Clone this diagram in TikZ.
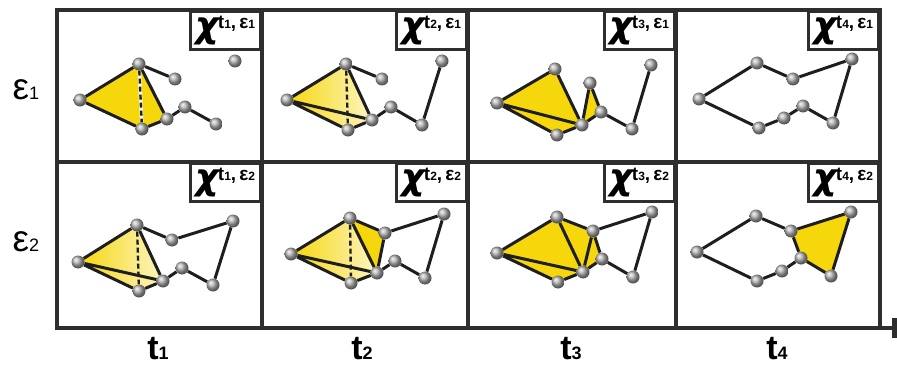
\documentclass[tikz,border=0pt]{standalone}
\usepackage{fontspec}
\setmainfont{Liberation Sans}
\newfontfamily\chifont{DejaVu Sans}
\usetikzlibrary{arrows.meta,backgrounds}
\definecolor{gold}{HTML}{F6D70C}
\definecolor{ink}{HTML}{1E1E1E}
\definecolor{rule}{HTML}{2E2E2E}
\newcommand{\chitag}[2]{{\chifont\bfseries\itshape\fontsize{36}{36}\selectfont χ}\hspace{-1pt}\raisebox{9pt}{\fontsize{19}{19}\selectfont t{\fontsize{12}{12}\selectfont #1},\,ε{\fontsize{12}{12}\selectfont #2}}}
\newcommand{\axlab}[2]{{\fontsize{#2}{#2}\selectfont #1}}

\begin{document}
\begin{tikzpicture}[
    x=1pt,y=-1pt,
    frame/.style={draw=rule,line width=3.2pt},
    tag/.style={draw=rule,line width=3.2pt,fill=white,anchor=north east,minimum width=70pt,minimum height=38pt,inner sep=1pt,font=\bfseries},
    ball/.style={circle,minimum size=13pt,inner sep=0pt,shading=ball,ball color=gray!60},
    bond/.style={draw=ink,line width=3pt,line join=round},
    hidden/.style={draw=ink,line width=2.4pt,dash pattern=on 5pt off 3pt},
    face/.style={fill=gold},
    fade/.style={left color=gold,right color=gold!25},
    rowlab/.style={font=\fontsize{37}{37}\selectfont},
    collab/.style={font=\bfseries\fontsize{34}{34}\selectfont}
  ]
    \useasboundingbox (0,0) rectangle (897,369);

    % grid
    \draw[frame] (57,10) rectangle (880,328);
    \draw[frame] (262,10) -- (262,328) (468,10) -- (468,328) (676,10) -- (676,328);
    \draw[frame] (57,162) -- (880,162);
    \coordinate (axend) at (897,328);
    \coordinate (axstart) at (880,328);
    \draw[rule,line width=3.2pt,-{Rectangle[length=5pt,width=20pt]}] (axstart) -- (axend);

    \node[tag] (tag11) at (262,10) {\chitag{1}{1}};
    \node[tag] (tag12) at (468,10) {\chitag{2}{1}};
    \node[tag] (tag13) at (676,10) {\chitag{3}{1}};
    \node[tag] (tag14) at (880,10) {\chitag{4}{1}};
    \node[tag] (tag21) at (262,162) {\chitag{1}{2}};
    \node[tag] (tag22) at (468,162) {\chitag{2}{2}};
    \node[tag] (tag23) at (676,162) {\chitag{3}{2}};
    \node[tag] (tag24) at (880,162) {\chitag{4}{2}};

    \node[rowlab] (eps1) at (26,90) {ε\axlab{1}{18}};
    \node[rowlab] (eps2) at (26,242) {ε\axlab{2}{18}};
    \node[collab] (t1) at (158,349) {t\axlab{1}{18}};
    \node[collab] (t2) at (362,349) {t\axlab{2}{18}};
    \node[collab] (t3) at (571,349) {t\axlab{3}{18}};
    \node[collab] (t4) at (777,349) {t\axlab{4}{18}};

    % row eps1
    \node[ball] (A11) at (80,100) {}; \node[ball] (B11) at (139,64) {}; \node[ball] (C11) at (142,129) {}; \node[ball] (D11) at (167,119) {};
    \node[ball] (E11) at (175,79) {}; \node[ball] (F11) at (185,107) {}; \node[ball] (G11) at (216,124) {}; \node[ball] (H11) at (235,61) {};

    \node[ball] (A12) at (287,100) {}; \node[ball] (B12) at (346,64) {}; \node[ball] (C12) at (348,130) {}; \node[ball] (D12) at (372,120) {};
    \node[ball] (E12) at (382,79) {}; \node[ball] (F12) at (391,107) {}; \node[ball] (G12) at (422,125) {}; \node[ball] (H12) at (442,61) {};

    \node[ball] (A13) at (497,103) {}; \node[ball] (B13) at (555,69) {}; \node[ball] (C13) at (557,135) {}; \node[ball] (D13) at (582,125) {};
    \node[ball] (E13) at (590,83) {}; \node[ball] (F13) at (601,112) {}; \node[ball] (G13) at (632,129) {}; \node[ball] (H13) at (651,65) {};

    \node[ball] (A14) at (699,99) {}; \node[ball] (B14) at (757,63) {}; \node[ball] (C14) at (759,128) {}; \node[ball] (D14) at (784,118) {};
    \node[ball] (E14) at (793,79) {}; \node[ball] (F14) at (803,106) {}; \node[ball] (G14) at (833,123) {}; \node[ball] (H14) at (852,59) {};

    % row eps2
    \node[ball] (A21) at (78,262) {}; \node[ball] (B21) at (137,225) {}; \node[ball] (C21) at (139,291) {}; \node[ball] (D21) at (163,281) {};
    \node[ball] (E21) at (172,240) {}; \node[ball] (F21) at (182,268) {}; \node[ball] (G21) at (213,285) {}; \node[ball] (H21) at (233,221) {};

    \node[ball] (A22) at (291,254) {}; \node[ball] (B22) at (350,218) {}; \node[ball] (C22) at (351,283) {}; \node[ball] (D22) at (377,273) {};
    \node[ball] (E22) at (385,233) {}; \node[ball] (F22) at (395,261) {}; \node[ball] (G22) at (425,278) {}; \node[ball] (H22) at (444,214) {};

    \node[ball] (A23) at (497,253) {}; \node[ball] (B23) at (557,217) {}; \node[ball] (C23) at (558,282) {}; \node[ball] (D23) at (583,272) {};
    \node[ball] (E23) at (593,231) {}; \node[ball] (F23) at (602,259) {}; \node[ball] (G23) at (633,277) {}; \node[ball] (H23) at (652,212) {};

    \node[ball] (A24) at (697,252) {}; \node[ball] (B24) at (756,216) {}; \node[ball] (C24) at (757,281) {}; \node[ball] (D24) at (782,271) {};
    \node[ball] (E24) at (791,231) {}; \node[ball] (F24) at (801,258) {}; \node[ball] (G24) at (831,276) {}; \node[ball] (H24) at (851,212) {};

    \begin{scope}[on background layer]
      % faces
      \fill[face] (A11.center) -- (B11.center) -- (D11.center) -- (C11.center) -- cycle;
      \shade[fade] (A12.center) -- (B12.center) -- (D12.center) -- (C12.center) -- cycle;
      \fill[face] (A13.center) -- (B13.center) -- (D13.center) -- (C13.center) -- cycle;
      \fill[face] (D13.center) -- (E13.center) -- (F13.center) -- cycle;
      \shade[fade] (A21.center) -- (B21.center) -- (D21.center) -- (C21.center) -- cycle;
      \shade[fade] (A22.center) -- (B22.center) -- (D22.center) -- (C22.center) -- cycle;
      \fill[face] (B22.center) -- (E22.center) -- (D22.center) -- cycle;
      \fill[face] (A23.center) -- (B23.center) -- (E23.center) -- (F23.center) -- (D23.center) -- (C23.center) -- cycle;
      \fill[face] (E24.center) -- (H24.center) -- (G24.center) -- (F24.center) -- cycle;

      % bonds
      \draw[bond] (A11) -- (B11) (A11) -- (C11) (B11) -- (D11) (C11) -- (D11) (B11) -- (E11) (D11) -- (F11) (F11) -- (G11);
      \draw[white,line width=3.4pt] (B11) -- (C11);
      \draw[hidden] (B11) -- (C11);
      \draw[bond] (A12) -- (B12) (A12) -- (C12) (A12) -- (D12) (B12) -- (D12) (C12) -- (D12) (B12) -- (E12) (D12) -- (F12) (F12) -- (G12) (G12) -- (H12);
      \draw[hidden] (B12) -- (C12);
      \draw[bond] (A13) -- (B13) (A13) -- (C13) (A13) -- (D13) (B13) -- (D13) (C13) -- (D13) (D13) -- (E13) (E13) -- (F13) (D13) -- (F13) (F13) -- (G13) (G13) -- (H13);
      \draw[bond] (A14) -- (B14) -- (E14) -- (H14) -- (G14) -- (F14) -- (D14) -- (C14) -- (A14);

      \draw[bond] (A21) -- (B21) (A21) -- (C21) (A21) -- (D21) (B21) -- (D21) (C21) -- (D21) (B21) -- (E21) (E21) -- (H21) (H21) -- (G21) (G21) -- (F21) (F21) -- (D21);
      \draw[hidden] (B21) -- (C21);
      \draw[bond] (A22) -- (B22) (A22) -- (C22) (A22) -- (D22) (B22) -- (D22) (C22) -- (D22) (B22) -- (E22) (E22) -- (D22) (E22) -- (H22) (H22) -- (G22) (G22) -- (F22) (F22) -- (D22);
      \draw[hidden] (B22) -- (C22);
      \draw[bond] (A23) -- (B23) (A23) -- (C23) (A23) -- (D23) (B23) -- (D23) (C23) -- (D23) (B23) -- (E23) (E23) -- (D23) (E23) -- (F23) (F23) -- (D23) (E23) -- (H23) (H23) -- (G23) (G23) -- (F23);
      \draw[bond] (A24) -- (B24) -- (E24) -- (H24) -- (G24) -- (F24) -- (D24) -- (C24) -- (A24) (E24) -- (F24);
    \end{scope}
  \end{tikzpicture}
\end{document}
